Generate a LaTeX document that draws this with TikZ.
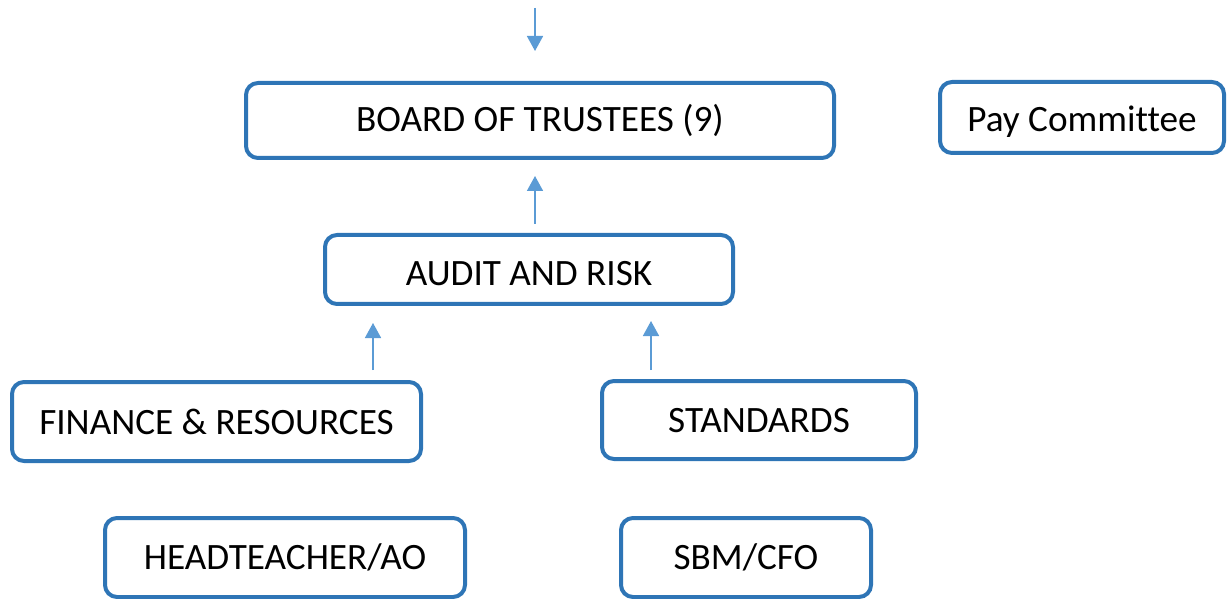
\documentclass[tikz,border=0pt]{standalone}
\usepackage{fontspec}
\setmainfont{Carlito}[Ligatures=NoCommon]
\usetikzlibrary{arrows.meta}
\definecolor{boxblue}{HTML}{2E75B6}
\definecolor{arrowblue}{HTML}{5B9BD5}
\begin{document}
\begin{tikzpicture}[x=1pt,y=1pt,
  orgbox/.style={draw=boxblue, line width=4pt, rounded corners=12pt, fill=white,
    inner sep=0pt, font=\fontsize{37.2}{44}\selectfont, text=black,
    text height=24pt, text depth=0pt},
  flow/.style={draw=arrowblue, line width=1.6pt, -{Triangle[width=16pt,length=15pt]}}]
\useasboundingbox (0,0) rectangle (1232,598);
\node[orgbox, minimum width=588pt, minimum height=75pt, text height=22pt] (board) at (540,477.5) {BOARD OF TRUSTEES (9)};
\node[orgbox, minimum width=284pt, minimum height=71pt, text height=29pt] (pay) at (1082,480.5) {Pay Committee};
\node[orgbox, minimum width=408pt, minimum height=69pt, text height=32pt] (audit) at (529,328.5) {AUDIT AND RISK};
\node[orgbox, minimum width=409pt, minimum height=79pt, text height=26pt] (finance) at (216.5,176.5) {FINANCE \& RESOURCES};
\node[orgbox, minimum width=314pt, minimum height=78pt] (standards) at (759,178) {STANDARDS};
\node[orgbox, minimum width=360pt, minimum height=79pt] (head) at (285,40.5) {HEADTEACHER/AO};
\node[orgbox, minimum width=250pt, minimum height=79pt] (sbm) at (746,40.5) {SBM/CFO};
\coordinate (t1) at (535,590);
\coordinate (t2) at (535,547);
\coordinate (m1) at (535,374);
\coordinate (m2) at (535,422);
\coordinate (l1) at (373,228);
\coordinate (l2) at (373,275);
\coordinate (r1) at (651,228);
\coordinate (r2) at (651,277);
\draw[flow] (t1) -- (t2);
\draw[flow] (m1) -- (m2);
\draw[flow] (l1) -- (l2);
\draw[flow] (r1) -- (r2);
\end{tikzpicture}
\end{document}
